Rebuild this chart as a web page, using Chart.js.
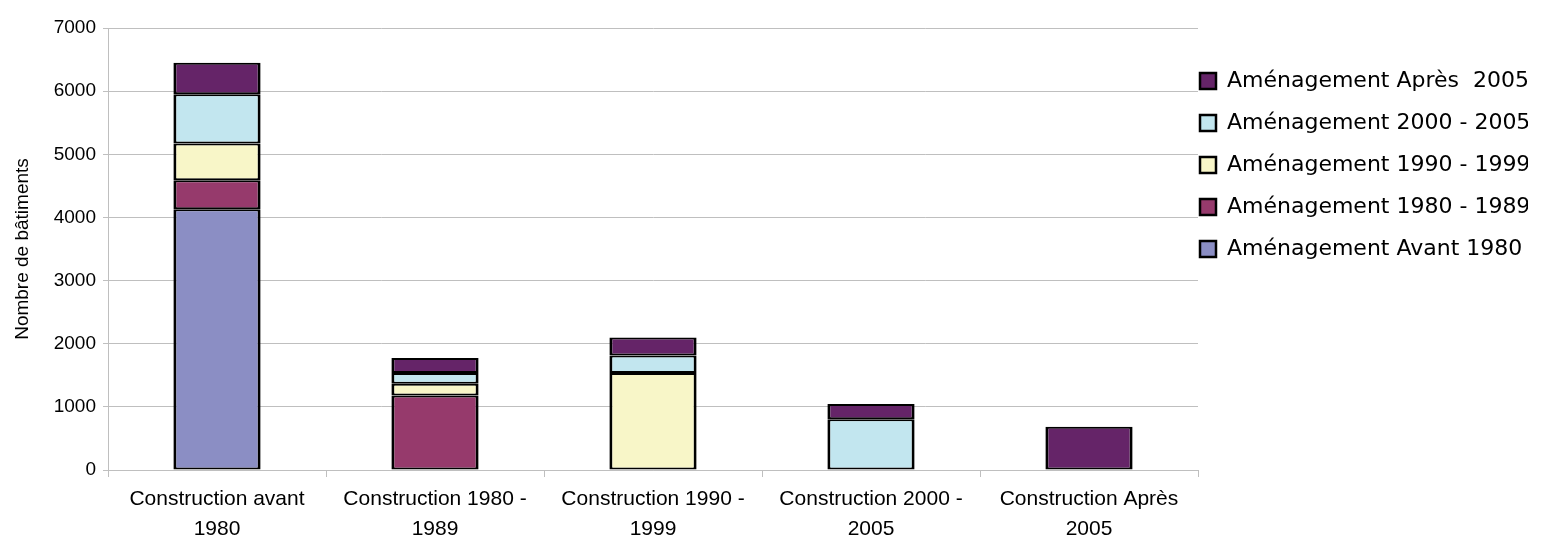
<!DOCTYPE html>
<html lang="fr">
<head>
<meta charset="utf-8">
<title>Nombre de bâtiments par période</title>
<script src="https://cdn.jsdelivr.net/npm/chart.js@4.4.1/dist/chart.umd.min.js"></script>
<style>
  html, body { margin: 0; padding: 0; background: #fff; }
  #wrap { position: relative; width: 1546px; height: 541px; }
</style>
</head>
<body>
<div id="wrap"><canvas id="chart"></canvas></div>
<script>
// Categories (construction period), two-line labels
const categories = [
  ["Construction avant", "1980"],
  ["Construction 1980 -", "1989"],
  ["Construction 1990 -", "1999"],
  ["Construction 2000 -", "2005"],
  ["Construction Après", "2005"]
];

// Stacked series (aménagement period), bottom to top
const amenAvant1980 = [4130, null, null, null, null];
const amen1980_1989 = [460, 1180, null, null, null];
const amen1990_1999 = [580, 185, 1535, null, null];
const amen2000_2005 = [780, 170, 277, 805, null];
const amenApres2005 = [500, 240, 285, 240, 685];

const yTicks = [0, 1000, 2000, 3000, 4000, 5000, 6000, 7000];

const GRID = "#BFBFBF";
const segBorder = { top: 2, bottom: 2, left: 3, right: 3 };

function series(label, data, color) {
  return {
    label,
    data,
    backgroundColor: color,
    borderColor: "#000",
    borderWidth: segBorder,
    borderSkipped: false,
    barPercentage: 0.4,
    categoryPercentage: 1
  };
}

// nudges the right-hand legend so it sits where the original one does
const legendNudge = {
  id: "legendNudge",
  afterLayout(chart) {
    const lg = chart.legend;
    if (!lg) return;
    lg.left -= 18;
    lg.right -= 18;
    lg.top += 22;
  }
};

new Chart(document.getElementById("chart"), {
  type: "bar",
  data: {
    labels: categories,
    datasets: [
      series("Aménagement Avant 1980", amenAvant1980, "#8B8EC4"),
      series("Aménagement 1980 - 1989", amen1980_1989, "#963A6C"),
      series("Aménagement 1990 - 1999", amen1990_1999, "#F8F6C8"),
      series("Aménagement 2000 - 2005", amen2000_2005, "#C2E6EF"),
      series("Aménagement Après  2005", amenApres2005, "#652468")
    ]
  },
  options: {
    responsive: true,
    maintainAspectRatio: false,
    animation: false,
    layout: { padding: { top: 28, right: 0, bottom: 0, left: 0 } },
    plugins: {
      tooltip: { enabled: false },
      legend: {
        position: "right",
        align: "start",
        reverse: true,
        maxWidth: 348,
        labels: {
          boxWidth: 16,
          boxHeight: 16,
          padding: 20,
          color: "#000",
          font: { family: "DejaVu Sans", size: 22 }
        }
      }
    },
    scales: {
      x: {
        stacked: true,
        offset: true,
        afterFit(scale) { scale.height = 71; },
        grid: {
          offset: true,
          drawOnChartArea: false,
          drawTicks: true,
          tickLength: 7,
          color: GRID
        },
        border: { color: GRID, width: 1 },
        ticks: {
          color: "#000",
          padding: 7,
          maxRotation: 0,
          autoSkip: false,
          font: { family: "Liberation Sans", size: 21, lineHeight: 1.45 }
        }
      },
      y: {
        stacked: true,
        min: yTicks[0],
        max: yTicks[yTicks.length - 1],
        afterFit(scale) { scale.width = 108; },
        afterBuildTicks(scale) { scale.ticks = yTicks.map((v) => ({ value: v })); },
        grid: { color: GRID, tickLength: 5, lineWidth: 1 },
        border: { color: GRID, width: 1 },
        ticks: {
          color: "#000",
          padding: 7,
          callback: (v) => String(v),
          font: { family: "Liberation Sans", size: 19 }
        },
        title: {
          display: true,
          text: "Nombre de bâtiments",
          color: "#000",
          padding: { top: 11, bottom: 0 },
          font: { family: "Liberation Sans", size: 19 }
        }
      }
    }
  },
  plugins: [legendNudge]
});
</script>
</body>
</html>
